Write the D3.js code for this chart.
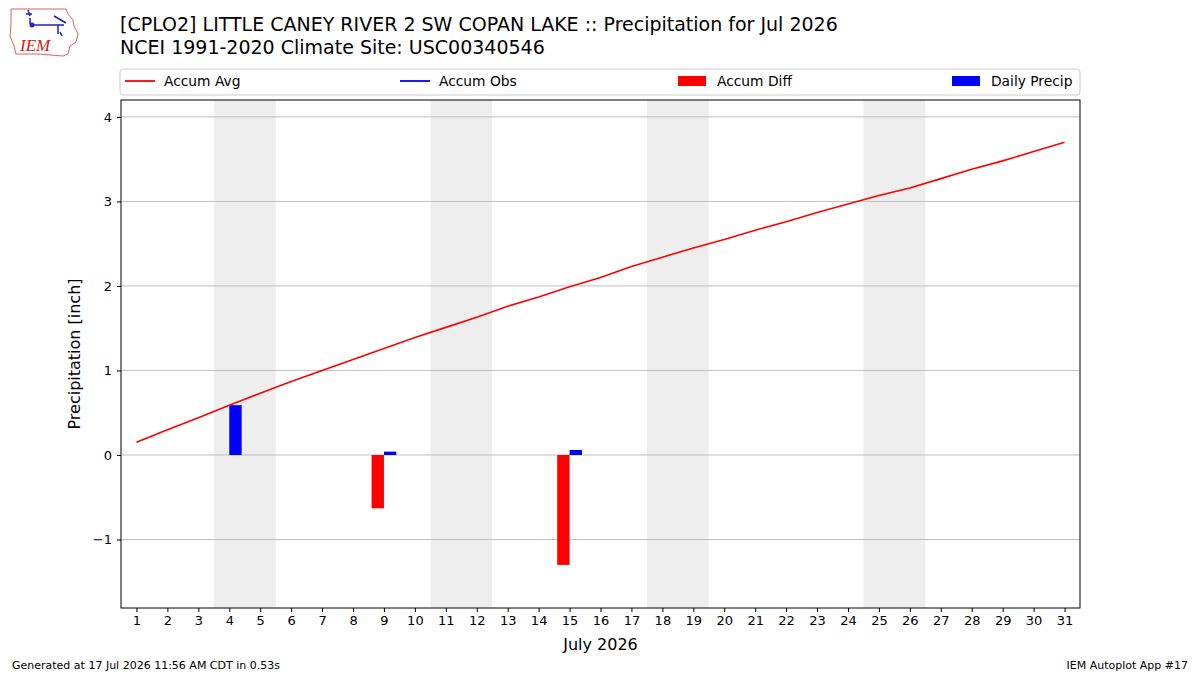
<!DOCTYPE html>
<html>
<head>
<meta charset="utf-8">
<script src="https://cdn.jsdelivr.net/npm/d3@7"></script>
<style>
  body { margin: 0; background: #fff; }
  text { font-family: "DejaVu Sans", sans-serif; }
</style>
</head>
<body>
<script>
const W = 1200, H = 675;
const m = { left: 121, right: 1080, top: 100, bottom: 608 };

// data
const days = d3.range(1, 32);
const accumAvg = [0.15, 0.30, 0.44, 0.59, 0.73, 0.87, 1.00, 1.13, 1.26, 1.39,
                  1.51, 1.63, 1.76, 1.87, 1.99, 2.10, 2.23, 2.34, 2.45, 2.55,
                  2.66, 2.76, 2.87, 2.97, 3.07, 3.16, 3.27, 3.38, 3.48, 3.59, 3.70];
const precipDays = [4, 9, 15];
const dailyPrecip = [0.59, 0.04, 0.06];
const accumDiff = [0.0, -0.63, -1.30];
const weekends = [[4, 5], [11, 12], [18, 19], [25, 26]];
const yTicks = [-1, 0, 1, 2, 3, 4];

const svg = d3.select('body').append('svg')
    .attr('width', W)
    .attr('height', H);

const x = d3.scaleLinear().domain([0.5, 31.5]).range([m.left, m.right]);
const y = d3.scaleLinear().domain([-1.81, 4.2]).range([m.bottom, m.top]);

// weekend shading
svg.selectAll('rect.wk').data(weekends).join('rect')
    .attr('x', d => x(d[0] - 0.5))
    .attr('width', d => x(d[1] + 0.5) - x(d[0] - 0.5))
    .attr('y', m.top)
    .attr('height', m.bottom - m.top)
    .attr('fill', '#eeeeee');

// grid
svg.selectAll('line.grid').data(yTicks).join('line')
    .attr('x1', m.left).attr('x2', m.right)
    .attr('y1', d => y(d)).attr('y2', d => y(d))
    .attr('stroke', '#b0b0b0').attr('stroke-width', 0.8);

// bars
const bw = 0.4;
svg.selectAll('rect.diff').data(precipDays).join('rect')
    .attr('x', d => x(d - bw))
    .attr('width', x(bw) - x(0))
    .attr('y', (d, i) => y(Math.max(0, accumDiff[i])))
    .attr('height', (d, i) => Math.abs(y(accumDiff[i]) - y(0)))
    .attr('fill', '#ff0000');

svg.selectAll('rect.daily').data(precipDays).join('rect')
    .attr('x', d => x(d))
    .attr('width', x(bw) - x(0))
    .attr('y', (d, i) => y(dailyPrecip[i]))
    .attr('height', (d, i) => y(0) - y(dailyPrecip[i]))
    .attr('fill', '#0000ff');

// avg line
svg.append('path')
    .datum(days)
    .attr('fill', 'none')
    .attr('stroke', '#ff0000')
    .attr('stroke-width', 1.6)
    .attr('d', d3.line().x(d => x(d)).y((d, i) => y(accumAvg[i])));

// frame
svg.append('rect')
    .attr('x', m.left).attr('y', m.top)
    .attr('width', m.right - m.left).attr('height', m.bottom - m.top)
    .attr('fill', 'none').attr('stroke', '#000').attr('stroke-width', 1);

// axes
const xAxis = svg.append('g')
    .attr('transform', `translate(0,${m.bottom})`)
    .call(d3.axisBottom(x).tickValues(days).tickSize(4).tickPadding(4));
const yAxis = svg.append('g')
    .attr('transform', `translate(${m.left},0)`)
    .call(d3.axisLeft(y).tickValues(yTicks).tickSize(4).tickPadding(5)
        .tickFormat(d => d < 0 ? '\u2212' + Math.abs(d) : d));
[xAxis, yAxis].forEach(g => {
    g.select('.domain').remove();
    g.selectAll('text').attr('font-size', 13).attr('fill', '#000')
        .style('font-family', '"DejaVu Sans", sans-serif');
    g.selectAll('line').attr('stroke', '#000');
});

svg.append('text')
    .attr('x', (m.left + m.right) / 2).attr('y', 650)
    .attr('text-anchor', 'middle').attr('font-size', 16)
    .text('July 2026');
svg.append('text')
    .attr('transform', `translate(80,${(m.top + m.bottom) / 2}) rotate(-90)`)
    .attr('text-anchor', 'middle').attr('font-size', 16)
    .text('Precipitation [inch]');

// titles
svg.append('text').attr('x', 120).attr('y', 31).attr('font-size', 19)
    .text('[CPLO2] LITTLE CANEY RIVER 2 SW COPAN LAKE :: Precipitation for Jul 2026');
svg.append('text').attr('x', 120).attr('y', 54).attr('font-size', 19)
    .text('NCEI 1991-2020 Climate Site: USC00340546');

// legend
svg.append('rect')
    .attr('x', 120).attr('y', 69).attr('width', 960).attr('height', 26)
    .attr('rx', 3).attr('fill', '#fff').attr('stroke', '#cccccc');
const legend = [
    { label: 'Accum Avg', color: '#ff0000', type: 'line', x: 125 },
    { label: 'Accum Obs', color: '#0000ff', type: 'line', x: 400 },
    { label: 'Accum Diff', color: '#ff0000', type: 'patch', x: 678 },
    { label: 'Daily Precip', color: '#0000ff', type: 'patch', x: 952 }
];
legend.forEach(l => {
    if (l.type === 'line') {
        svg.append('line').attr('x1', l.x).attr('x2', l.x + 30)
            .attr('y1', 81).attr('y2', 81)
            .attr('stroke', l.color).attr('stroke-width', 1.8);
    } else {
        svg.append('rect').attr('x', l.x).attr('y', 76).attr('width', 28).attr('height', 10)
            .attr('fill', l.color);
    }
    svg.append('text').attr('x', l.x + 39).attr('y', 86).attr('font-size', 13.8).text(l.label);
});

// footer
svg.append('text').attr('x', 12).attr('y', 669).attr('font-size', 11)
    .text('Generated at 17 Jul 2026 11:56 AM CDT in 0.53s');
svg.append('text').attr('x', 1188).attr('y', 669).attr('font-size', 11)
    .attr('text-anchor', 'end').text('IEM Autoplot App #17');

// logo
const logo = svg.append('g').attr('transform', 'translate(8,6)');
logo.append('path')
    .attr('d', 'M3,3 L58,3 L60,8 L65,14 L66,20 L70,28 L68,36 L62,40 L60,48 L55,50 L30,48 L8,48 L6,40 L2,30 L3,18 Z')
    .attr('fill', 'none').attr('stroke', '#e06060').attr('stroke-width', 1);
logo.append('path')
    .attr('d', 'M20,4 L22,10 M18,8 L24,8 M22,12 L22,18 M24,19 L56,19 M46,10 L58,17 M50,19 L50,28 M52,26 L54,30')
    .attr('fill', 'none').attr('stroke', '#2020c0').attr('stroke-width', 1.5);
logo.append('circle').attr('cx', 24).attr('cy', 19).attr('r', 2.5).attr('fill', '#2020c0');
logo.append('text').attr('x', 12).attr('y', 45).attr('font-size', 17)
    .style('font-family', '"Liberation Serif", serif').attr('font-style', 'italic')
    .attr('fill', '#d02020').text('IEM');
</script>
</body>
</html>
